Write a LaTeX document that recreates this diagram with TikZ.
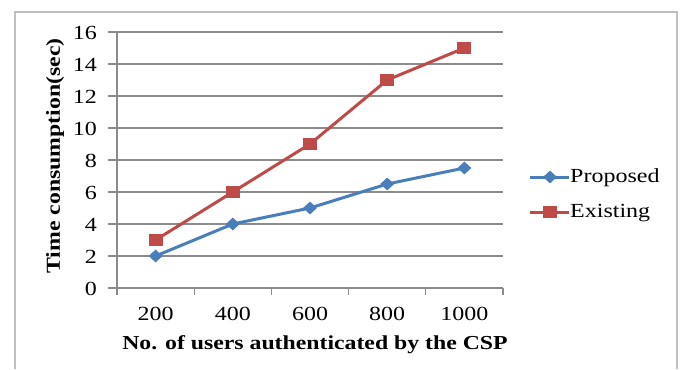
\documentclass[tikz,border=0pt]{standalone}
\usepackage{fontspec}
\setmainfont[FakeStretch=1.2]{Liberation Serif}
\usetikzlibrary{shapes.geometric}
\definecolor{propblue}{HTML}{4A7EBB}
\definecolor{existred}{HTML}{BE4B48}
\definecolor{gridgray}{HTML}{8C8C8C}
\definecolor{framegray}{HTML}{BFBFBF}
\tikzset{
  gridline/.style={draw=gridgray, line width=1.3pt},
  axisline/.style={draw=gridgray, line width=1.3pt},
  ticklabel/.style={font=\fontsize{20}{22}\selectfont, inner sep=0pt},
  titlelabel/.style={font=\fontsize{19.8}{22}\selectfont\bfseries, inner sep=0pt},
  legendlabel/.style={font=\fontsize{20}{22}\selectfont, inner sep=0pt, anchor=west},
  propline/.style={draw=propblue, line width=3pt},
  existline/.style={draw=existred, line width=3pt},
  propmark/.style={diamond, fill=propblue, minimum width=14pt, minimum height=13pt, inner sep=0pt},
  existmark/.style={rectangle, fill=existred, minimum width=14pt, minimum height=12pt, inner sep=0pt},
}
\begin{document}
\begin{tikzpicture}[x=1pt,y=-1pt]
\useasboundingbox (0,0) rectangle (684,369);
\fill[white] (0,0) rectangle (684,369);
% outer frame
\draw[framegray, line width=1.5pt] (15,369) -- (15,12) -- (677,12) -- (677,369);
% horizontal gridlines and y ticks
\foreach \v in {2,4,...,16}{
  \draw[gridline] (108,{288-16*\v}) -- (503,{288-16*\v});
}
\foreach \v in {0,2,...,16}{
  \node[ticklabel, anchor=east] (yl\v) at (97,{289-16*\v}) {\v};
}
% axes
\draw[axisline] (108,288) -- (503,288);
\draw[axisline] (117,32) -- (117,288);
\foreach \i in {0,...,5}{
  \draw[axisline] ({117+77.2*\i},288) -- ({117+77.2*\i},295);
}
% x tick labels
\foreach \n [count=\i] in {200,400,600,800,1000}{
  \node[ticklabel] (xl\i) at ({117+77.2*(\i-0.5)},314) {\n};
}
% axis titles
\node[titlelabel] (xt) at (315,345) {No. of users authenticated by the CSP};
\node[titlelabel, rotate=90] (yt) at (55,156) {Time consumption(sec)};
% data points
\foreach \v [count=\i] in {2,4,5,6.5,7.5}{
  \coordinate (p\i) at ({117+77.2*(\i-0.5)},{288-16*\v});
}
\foreach \v [count=\i] in {3,6,9,13,15}{
  \coordinate (e\i) at ({117+77.2*(\i-0.5)},{288-16*\v});
}
\draw[existline, line join=round] (e1) -- (e2) -- (e3) -- (e4) -- (e5);
\draw[propline, line join=round] (p1) -- (p2) -- (p3) -- (p4) -- (p5);
\foreach \i in {1,...,5}{
  \node[existmark] (em\i) at (e\i) {};
  \node[propmark] (pm\i) at (p\i) {};
}
% legend
\coordinate (lp1) at (530,177);
\coordinate (lp2) at (569,177);
\draw[propline] (lp1) -- (lp2);
\node[propmark] (lpm) at (550,177) {};
\node[legendlabel] (lpt) at (570,178) {Proposed};
\coordinate (le1) at (530,212);
\coordinate (le2) at (569,212);
\draw[existline] (le1) -- (le2);
\node[existmark] (lem) at (550,212) {};
\node[legendlabel] (let) at (570,213) {Existing};
\end{tikzpicture}
\end{document}
